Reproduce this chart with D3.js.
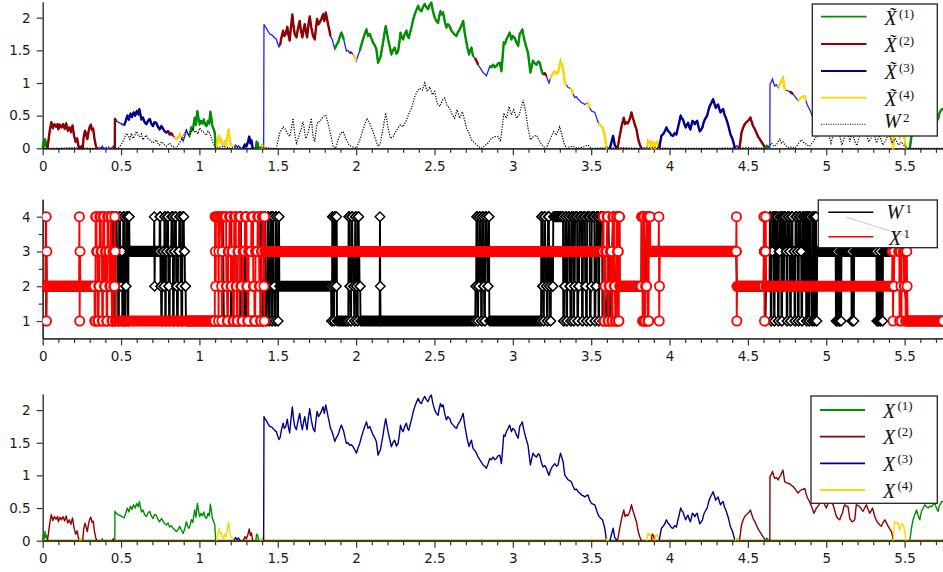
<!DOCTYPE html>
<html><head><meta charset="utf-8">
<script src="https://cdn.jsdelivr.net/npm/d3@7"></script>
<style>body{margin:0;background:#fff}svg{display:block}</style>
</head><body><svg id="c" width="943" height="572"></svg>
<script>
// ---------------- DATA ----------------
const xTickLabels = [0,0.5,1,1.5,2,2.5,3,3.5,4,4.5,5,5.5];
const yTicksPath = [0,0.5,1,1.5,2];
const yTicksState = [1,2,3,4];
const yMinorState = [1.5,2.5,3.5];

// active-component value (shared by panels 1 and 3): [t, value]
const mainPath = [
[0,0],[0.005,0.1],[0.01,0.03],[0.015,0.14],[0.02,0.05],[0.025,0.08],[0.03,0],
[0.037,0.12],[0.045,0.27],[0.055,0.4],[0.065,0.31],[0.075,0.37],[0.085,0.33],[0.095,0.37],[0.1,0.29],[0.11,0.36],[0.12,0.32],[0.13,0.37],[0.14,0.3],[0.15,0.38],[0.16,0.27],[0.17,0.32],[0.18,0.25],[0.19,0.35],[0.2,0.2],[0.21,0.1],[0.22,0.15],[0.228,0.04],[0.235,0],[0.24,0.02],[0.248,0.03],[0.255,0],
[0.262,0.18],[0.27,0.27],[0.278,0.2],[0.285,0.14],[0.292,0.25],[0.3,0.33],[0.307,0.36],[0.315,0.28],[0.322,0.3],[0.33,0.15],[0.338,0.05],[0.345,0],[0.375,0],[0.38,0.03],[0.385,0],[0.445,0],[0.45,0.03],[0.455,0],[0.46,0],
[0.461,0.45],[0.47,0.42],[0.48,0.4],[0.49,0.39],[0.5,0.38],[0.51,0.36],[0.52,0.35],[0.53,0.42],[0.54,0.5],[0.55,0.44],[0.56,0.53],[0.57,0.48],[0.58,0.55],[0.59,0.5],[0.6,0.57],[0.61,0.52],[0.617,0.6],[0.625,0.5],[0.63,0.44],[0.64,0.47],[0.65,0.4],[0.662,0.37],[0.672,0.42],[0.683,0.45],[0.693,0.38],[0.704,0.34],[0.714,0.4],[0.725,0.39],[0.735,0.33],[0.746,0.29],[0.757,0.34],[0.768,0.3],[0.778,0.26],[0.789,0.24],[0.8,0.27],[0.81,0.21],[0.82,0.23],[0.832,0.19],[0.842,0.17],[0.853,0.14],[0.864,0.17],[0.874,0.22],[0.885,0.16],[0.896,0.11],[0.906,0.18],[0.917,0.29],[0.925,0.22],[0.934,0.19],[0.942,0.25],[0.949,0.32],[0.958,0.28],[0.97,0.47],[0.978,0.36],[0.987,0.57],[0.995,0.45],[1.002,0.37],[1.01,0.42],[1.02,0.38],[1.028,0.44],[1.037,0.36],[1.045,0.34],[1.055,0.42],[1.063,0.38],[1.07,0.56],[1.077,0.45],[1.083,0.34],[1.09,0.3],[1.098,0.24],[1.104,0],
[1.11,0],[1.118,0.12],[1.125,0.19],[1.133,0.1],[1.14,0.13],[1.147,0.06],[1.155,0.03],[1.162,0.1],[1.17,0.06],[1.178,0.17],[1.186,0.29],[1.193,0.15],[1.2,0.06],[1.21,0.04],[1.22,0],[1.23,0.05],[1.24,0.02],[1.25,0.04],[1.26,0],[1.28,0],[1.29,0.06],[1.3,0.03],[1.31,0.1],[1.318,0.18],[1.325,0.08],[1.332,0.12],[1.34,0],[1.36,0],[1.365,0.1],[1.372,0.08],[1.378,0],[1.39,0],[1.4,0.05],[1.41,0],
[1.412,1.9],[1.42,1.86],[1.427,1.84],[1.438,1.79],[1.449,1.75],[1.46,1.74],[1.47,1.72],[1.48,1.69],[1.491,1.67],[1.5,1.6],[1.508,1.55],[1.515,1.58],[1.522,1.68],[1.528,1.74],[1.534,1.8],[1.542,1.72],[1.551,1.75],[1.561,1.86],[1.568,1.74],[1.576,1.65],[1.584,1.85],[1.593,2.05],[1.6,1.88],[1.608,1.75],[1.619,1.7],[1.628,1.82],[1.64,1.95],[1.648,1.8],[1.657,1.7],[1.665,1.82],[1.672,1.9],[1.68,1.78],[1.687,1.7],[1.695,1.88],[1.704,2.02],[1.714,1.85],[1.725,1.72],[1.736,1.67],[1.744,1.85],[1.751,1.98],[1.76,1.9],[1.768,1.93],[1.778,1.98],[1.789,2.05],[1.797,1.95],[1.806,2.08],[1.813,2.0],[1.821,1.9],[1.83,1.8],[1.836,1.72],[1.845,1.68],[1.853,1.62],[1.858,1.57],[1.864,1.52],[1.874,1.58],[1.885,1.62],[1.895,1.7],[1.906,1.77],[1.914,1.72],[1.921,1.67],[1.93,1.57],[1.938,1.49],[1.948,1.5],[1.959,1.46],[1.97,1.47],[1.98,1.44],[1.99,1.4],[2.002,1.34],[2.012,1.42],[2.023,1.49],[2.033,1.58],[2.044,1.67],[2.055,1.75],[2.066,1.82],[2.076,1.72],[2.087,1.75],[2.098,1.68],[2.108,1.62],[2.118,1.58],[2.129,1.52],[2.14,1.31],[2.148,1.36],[2.155,1.39],[2.163,1.5],[2.172,1.62],[2.18,1.75],[2.189,1.87],[2.197,1.76],[2.204,1.67],[2.215,1.55],[2.225,1.44],[2.235,1.5],[2.246,1.54],[2.257,1.45],[2.268,1.49],[2.276,1.62],[2.283,1.77],[2.292,1.7],[2.3,1.67],[2.31,1.75],[2.321,1.8],[2.328,1.72],[2.336,1.69],[2.345,1.78],[2.353,1.85],[2.364,1.97],[2.374,2.05],[2.385,2.12],[2.396,2.18],[2.406,2.12],[2.417,2.1],[2.428,2.17],[2.438,2.21],[2.448,2.16],[2.459,2.13],[2.47,2.2],[2.48,2.23],[2.49,2.1],[2.502,2.0],[2.512,1.95],[2.523,1.92],[2.53,2.02],[2.538,2.1],[2.546,2.05],[2.555,2.08],[2.565,1.95],[2.576,1.85],[2.586,1.9],[2.597,1.87],[2.608,1.8],[2.619,1.77],[2.63,1.74],[2.64,1.72],[2.65,1.78],[2.661,1.82],[2.672,1.88],[2.683,1.95],[2.693,1.77],[2.704,1.62],[2.712,1.52],[2.721,1.44],[2.728,1.5],[2.736,1.54],[2.742,1.46],[2.747,1.41],[2.758,1.38],[2.768,1.34],[2.778,1.28],[2.789,1.24],[2.8,1.2],[2.81,1.16],[2.82,1.14],[2.831,1.11],[2.842,1.18],[2.853,1.26],[2.863,1.24],[2.874,1.28],[2.885,1.24],[2.895,1.26],[2.906,1.3],[2.917,1.31],[2.927,1.18],[2.935,1.4],[2.942,1.62],[2.95,1.6],[2.959,1.67],[2.97,1.72],[2.98,1.77],[2.991,1.67],[3.0,1.72],[3.012,1.69],[3.023,1.62],[3.034,1.57],[3.04,1.68],[3.044,1.75],[3.052,1.78],[3.061,1.82],[3.068,1.72],[3.076,1.64],[3.086,1.55],[3.097,1.46],[3.105,1.3],[3.112,1.16],[3.12,1.25],[3.129,1.34],[3.14,1.3],[3.151,1.28],[3.162,1.33],[3.172,1.31],[3.182,1.2],[3.193,1.13],[3.204,1.15],[3.214,1.11],[3.222,1.05],[3.231,1.0],[3.238,1.06],[3.246,1.11],[3.257,1.15],[3.268,1.18],[3.278,1.14],[3.289,1.16],[3.296,1.25],[3.304,1.34],[3.312,1.28],[3.321,1.21],[3.326,1.1],[3.332,1.0],[3.342,0.97],[3.353,0.93],[3.364,0.92],[3.374,0.9],[3.385,0.83],[3.395,0.78],[3.406,0.79],[3.416,0.75],[3.427,0.73],[3.438,0.7],[3.448,0.69],[3.459,0.67],[3.47,0.69],[3.48,0.7],[3.49,0.62],[3.502,0.57],[3.512,0.56],[3.523,0.55],[3.53,0.5],[3.538,0.44],[3.546,0.39],[3.555,0.36],[3.563,0.34],[3.572,0.32],[3.58,0.25],[3.587,0.19],[3.592,0.1],[3.597,0],
[3.6,0.03],[3.61,0],[3.62,0],[3.63,0.1],[3.64,0.19],[3.65,0.05],[3.665,0],[3.672,0.05],[3.682,0.19],[3.695,0.35],[3.708,0.47],[3.716,0.37],[3.725,0.4],[3.733,0.38],[3.742,0.42],[3.75,0.48],[3.757,0.55],[3.765,0.47],[3.772,0.42],[3.78,0.35],[3.789,0.29],[3.8,0.14],[3.81,0.06],[3.82,0],[3.855,0],[3.862,0.12],[3.87,0.08],[3.878,0.1],[3.885,0],[3.89,0.1],[3.898,0.08],[3.906,0],[3.912,0.08],[3.92,0.1],[3.928,0.04],[3.934,0],
[3.941,0.1],[3.948,0.19],[3.96,0.22],[3.97,0.26],[3.98,0.32],[3.99,0.27],[4.001,0.24],[4.012,0.2],[4.022,0.19],[4.033,0.23],[4.044,0.21],[4.052,0.3],[4.061,0.39],[4.071,0.5],[4.078,0.46],[4.086,0.44],[4.095,0.37],[4.103,0.32],[4.11,0.36],[4.118,0.39],[4.125,0.33],[4.133,0.29],[4.14,0.36],[4.146,0.42],[4.154,0.4],[4.161,0.37],[4.168,0.4],[4.176,0.42],[4.185,0.33],[4.193,0.26],[4.2,0.28],[4.21,0.32],[4.218,0.4],[4.225,0.44],[4.232,0.47],[4.24,0.5],[4.248,0.58],[4.257,0.65],[4.268,0.7],[4.278,0.75],[4.287,0.68],[4.295,0.62],[4.302,0.65],[4.31,0.67],[4.318,0.6],[4.325,0.55],[4.334,0.58],[4.342,0.6],[4.35,0.52],[4.359,0.47],[4.366,0.42],[4.374,0.36],[4.382,0.28],[4.389,0.21],[4.395,0.18],[4.402,0.14],[4.41,0.07],[4.417,0],
[4.43,0.04],[4.445,0],[4.452,0.1],[4.459,0.24],[4.47,0.32],[4.48,0.37],[4.49,0.4],[4.5,0.42],[4.508,0.44],[4.516,0.47],[4.525,0.4],[4.533,0.34],[4.543,0.3],[4.554,0.24],[4.565,0.18],[4.576,0.14],[4.586,0.1],[4.597,0.06],[4.605,0.03],[4.612,0],[4.62,0.04],[4.635,0],[4.64,0],
[4.641,0.98],[4.65,1.02],[4.657,1.06],[4.664,1.0],[4.671,0.955],[4.682,0.97],[4.693,0.93],[4.7,0.97],[4.709,1.0],[4.716,1.04],[4.724,1.08],[4.73,0.98],[4.735,0.9],[4.745,0.89],[4.756,0.88],[4.767,0.87],[4.778,0.85],[4.788,0.83],[4.799,0.8],[4.81,0.76],[4.82,0.73],[4.83,0.76],[4.842,0.78],[4.853,0.79],[4.863,0.8],[4.87,0.73],[4.878,0.67],[4.888,0.62],[4.899,0.57],[4.91,0.5],[4.921,0.42],[4.93,0.46],[4.937,0.5],[4.948,0.53],[4.959,0.57],[4.97,0.6],[4.98,0.62],[4.99,0.55],[5.0,0.5],[5.01,0.56],[5.02,0.6],[5.032,0.58],[5.044,0.55],[5.055,0.45],[5.065,0.37],[5.075,0.34],[5.086,0.32],[5.095,0.38],[5.103,0.42],[5.11,0.5],[5.118,0.55],[5.128,0.53],[5.139,0.52],[5.145,0.42],[5.15,0.34],[5.158,0.31],[5.165,0.29],[5.173,0.3],[5.182,0.32],[5.187,0.45],[5.192,0.55],[5.203,0.54],[5.214,0.52],[5.225,0.48],[5.235,0.45],[5.245,0.5],[5.256,0.55],[5.267,0.48],[5.278,0.42],[5.287,0.46],[5.295,0.5],[5.302,0.44],[5.31,0.37],[5.32,0.31],[5.331,0.27],[5.342,0.24],[5.352,0.22],[5.363,0.28],[5.374,0.32],[5.385,0.27],[5.395,0.22],[5.405,0.18],[5.416,0.14],[5.422,0.08],[5.427,0],
[5.432,0.2],[5.437,0.29],[5.448,0.27],[5.459,0.27],[5.464,0.2],[5.469,0.16],[5.475,0.22],[5.48,0.27],[5.488,0.25],[5.495,0.22],[5.502,0.12],[5.508,0],[5.533,0],[5.54,0.12],[5.547,0.24],[5.554,0.32],[5.565,0.4],[5.576,0.47],[5.587,0.38],[5.597,0.32],[5.603,0.4],[5.608,0.45],[5.618,0.5],[5.629,0.55],[5.64,0.52],[5.65,0.5],[5.66,0.53],[5.672,0.52],[5.682,0.55],[5.693,0.57],[5.703,0.5],[5.714,0.45],[5.72,0.52],[5.729,0.57],[5.738,0.6],[5.746,0.6]
];

// panel 3: which component X^(k) is active: [start, end, k]
const compSegs = [[0,0.03,1],[0.03,0.235,2],[0.235,0.255,4],[0.255,0.345,2],[0.375,0.385,1],[0.445,0.455,2],[0.46,1.104,1],[1.11,1.22,4],[1.22,1.26,3],[1.28,1.34,2],[1.36,1.39,1],[1.39,1.41,4],[1.41,3.597,3],[3.597,3.61,4],[3.62,3.665,3],[3.665,3.82,2],[3.855,3.885,4],[3.885,3.906,2],[3.906,3.934,4],[3.934,4.417,3],[4.417,4.445,4],[4.445,4.612,2],[4.612,4.635,1],[4.64,5.427,2],[5.427,5.508,4],[5.533,5.746,1]];

// panel 1: tilde-labels (thick), the rest drawn as the thin blue base
const tildeSegs = [[0,0.03,1],[0.03,0.345,2],[0.455,0.47,2],[0.5,0.51,1],[0.52,0.8,3],[0.8,0.832,2],[0.842,0.885,4],[0.93,1.104,1],[1.11,1.22,4],[1.28,1.34,3],[1.36,1.39,1],[1.39,1.41,4],[1.515,1.842,2],[1.864,1.927,1],[1.959,1.976,2],[1.976,2.002,4],[2.023,2.747,1],[2.758,2.778,2],[2.853,3.193,1],[3.193,3.214,2],[3.238,3.35,4],[3.364,3.385,4],[3.47,3.49,4],[3.546,3.6,4],[3.62,3.665,3],[3.665,3.82,2],[3.855,3.934,4],[3.934,4.417,3],[4.445,4.612,2],[4.612,4.635,1],[4.693,4.745,4],[4.767,4.788,2],[4.82,4.87,4],[5.395,5.508,4],[5.533,5.746,1]];

// W^2 path: [t, value]
const w2Path = [
[0,0],[0.1,0],[0.2,0.01],[0.3,0],[0.36,0],[0.37,0.03],[0.38,0],[0.42,0.02],[0.44,0],[0.48,0],[0.5,0.05],[0.515,0.12],[0.534,0.23],[0.545,0.2],[0.556,0.14],[0.566,0.23],[0.577,0.15],[0.588,0.2],[0.598,0.26],[0.608,0.2],[0.619,0.18],[0.63,0.22],[0.64,0.13],[0.65,0.17],[0.661,0.2],[0.672,0.15],[0.683,0.13],[0.694,0.1],[0.704,0.08],[0.715,0.11],[0.725,0.13],[0.736,0.07],[0.746,0.05],[0.757,0.1],[0.768,0.08],[0.778,0.05],[0.789,0.03],[0.8,0.06],[0.81,0.08],[0.82,0.04],[0.832,0.03],[0.842,0.01],[0.853,0],[0.87,0.07],[0.885,0.13],[0.9,0.2],[0.917,0.28],[0.928,0.22],[0.938,0.18],[0.948,0.25],[0.959,0.31],[0.97,0.24],[0.98,0.26],[0.991,0.22],[1.002,0.31],[1.012,0.27],[1.023,0.26],[1.034,0.22],[1.044,0.2],[1.055,0.26],[1.066,0.23],[1.077,0.15],[1.087,0.08],[1.098,0.03],[1.108,0],[1.15,0.03],[1.2,0],[1.25,0.02],[1.3,0],[1.35,0],[1.4,0.02],[1.45,0],[1.491,0],[1.502,0.12],[1.512,0.23],[1.523,0.28],[1.534,0.33],[1.545,0.3],[1.555,0.26],[1.565,0.22],[1.576,0.18],[1.587,0.3],[1.597,0.46],[1.608,0.23],[1.619,0.08],[1.63,0.15],[1.64,0.23],[1.65,0.3],[1.661,0.41],[1.67,0.28],[1.678,0.15],[1.693,0.23],[1.704,0.35],[1.714,0.46],[1.725,0.18],[1.736,0.1],[1.747,0.33],[1.757,0.41],[1.768,0.41],[1.779,0.45],[1.789,0.485],[1.806,0.51],[1.821,0.38],[1.836,0.23],[1.853,0.03],[1.87,0],[1.885,0.13],[1.9,0.23],[1.917,0.255],[1.938,0.13],[1.955,0.05],[1.97,0.03],[2.002,0],[2.023,0.13],[2.04,0.255],[2.055,0.36],[2.07,0.46],[2.087,0.38],[2.108,0.255],[2.125,0.13],[2.14,0.03],[2.155,0.08],[2.176,0.36],[2.189,0.54],[2.204,0.31],[2.219,0.15],[2.236,0.18],[2.253,0.255],[2.267,0.31],[2.282,0.36],[2.3,0.33],[2.321,0.43],[2.338,0.54],[2.353,0.61],[2.374,0.79],[2.389,0.87],[2.406,0.92],[2.423,0.89],[2.438,1.0],[2.453,0.87],[2.47,0.94],[2.487,0.82],[2.502,0.87],[2.517,0.69],[2.534,0.64],[2.551,0.74],[2.565,0.77],[2.58,0.66],[2.597,0.61],[2.614,0.51],[2.629,0.46],[2.644,0.59],[2.661,0.46],[2.678,0.56],[2.693,0.43],[2.704,0.31],[2.721,0.23],[2.736,0.13],[2.757,0.08],[2.778,0.03],[2.8,0],[2.82,0.04],[2.842,0.08],[2.863,0.15],[2.885,0.18],[2.906,0.18],[2.921,0.1],[2.934,0.36],[2.942,0.54],[2.959,0.46],[2.976,0.64],[2.991,0.51],[3.006,0.59],[3.023,0.46],[3.04,0.51],[3.055,0.64],[3.066,0.74],[3.083,0.54],[3.097,0.31],[3.112,0.13],[3.13,0.18],[3.151,0.2],[3.172,0.1],[3.193,0.03],[3.214,0],[3.23,0.1],[3.246,0.18],[3.261,0.255],[3.278,0.2],[3.299,0.33],[3.316,0.18],[3.331,0.05],[3.342,0],[3.36,0.02],[3.385,0.03],[3.41,0],[3.45,0.02],[3.48,0.05],[3.5,0],[3.7,0.01],[3.8,0],[3.9,0.01],[4.0,0],[4.3,0],[4.5,0.01],[4.62,0],[4.635,0.04],[4.65,0.08],[4.665,0.03],[4.682,0.05],[4.703,0.15],[4.714,0.08],[4.724,0.1],[4.735,0.06],[4.746,0.03],[4.76,0.01],[4.78,0.02],[4.795,0],[4.81,0.03],[4.825,0.08],[4.841,0.13],[4.852,0.1],[4.862,0.08],[4.878,0.05],[4.894,0.03],[4.915,0.1],[4.937,0.18],[4.958,0.2],[4.975,0.35],[4.99,0.28],[5.0,0.4],[5.015,0.22],[5.03,0.08],[5.05,0.25],[5.07,0.38],[5.09,0.15],[5.1,0.05],[5.12,0.2],[5.135,0.3],[5.15,0.1],[5.165,0.25],[5.18,0.12],[5.195,0.04],[5.215,0.22],[5.235,0.35],[5.25,0.28],[5.27,0.1],[5.285,0.15],[5.3,0.3],[5.32,0.08],[5.34,0.2],[5.36,0.05],[5.38,0.12],[5.4,0.25],[5.42,0.08],[5.44,0.15],[5.46,0.05],[5.48,0.1],[5.5,0.03],[5.52,0],[5.746,0]
];

// panel 2: runs of constant state [start, end, state]
const w1Runs = [
[0,0.018,2],[0.02,0.02,4],[0.022,0.022,1],[0.024,0.44,2],[0.442,0.446,1],[0.448,0.452,4],[0.454,0.458,3],[0.46,0.465,1],[0.467,0.472,4],[0.474,0.48,3],[0.482,0.486,1],[0.488,0.494,4],[0.496,0.5,2],[0.502,0.506,3],[0.508,0.512,1],[0.514,0.52,4],[0.522,0.526,1],[0.528,0.532,2],[0.534,0.54,4],[0.542,0.546,1],[0.548,0.552,4],[0.554,0.71,3],[0.712,0.712,4],[0.714,0.714,2],[0.716,0.745,3],[0.747,0.75,4],[0.752,0.755,2],[0.757,0.76,1],[0.762,0.77,3],[0.772,0.775,2],[0.777,0.78,4],[0.782,0.785,1],[0.787,0.792,3],[0.794,0.8,4],[0.802,0.805,2],[0.807,0.81,1],[0.812,0.82,3],[0.822,0.83,4],[0.832,0.836,1],[0.838,0.842,3],[0.844,0.85,4],[0.852,0.856,2],[0.858,0.862,1],[0.864,0.87,3],[0.872,0.878,4],[0.88,0.884,2],[0.886,0.89,1],[0.892,0.9,4],[0.902,0.906,3],[0.908,0.912,2],[0.914,1.15,1],
[1.152,1.152,4],[1.154,1.154,2],[1.156,1.2,1],[1.202,1.202,3],[1.204,1.204,4],[1.206,1.26,1],[1.262,1.265,4],[1.267,1.27,2],[1.272,1.275,3],[1.277,1.29,1],[1.292,1.295,4],[1.297,1.3,3],[1.302,1.39,1],[1.392,1.395,4],[1.397,1.4,2],[1.402,1.41,1],[1.412,1.415,3],[1.417,1.42,4],[1.422,1.428,1],[1.43,1.434,2],[1.436,1.44,4],[1.442,1.446,1],[1.448,1.452,3],[1.454,1.458,4],[1.46,1.465,1],[1.467,1.47,4],[1.472,1.478,2],[1.48,1.484,1],[1.486,1.49,4],[1.492,1.496,3],[1.498,1.502,1],[1.504,1.508,4],[1.51,1.84,2],
[1.842,1.846,1],[1.848,1.85,4],[1.852,1.856,2],[1.858,1.86,1],[1.862,1.866,4],[1.868,1.874,2],[1.876,1.876,4],[1.878,1.95,1],[1.952,1.956,4],[1.958,1.962,2],[1.964,1.968,1],[1.97,1.975,4],[1.977,1.98,3],[1.982,1.986,2],[1.988,1.992,1],[1.994,1.998,4],[2.0,2.004,2],[2.006,2.01,1],[2.012,2.016,4],[2.018,2.02,3],[2.022,2.026,2],[2.028,2.15,1],[2.152,2.152,4],[2.154,2.154,2],[2.156,2.76,1],
[2.762,2.766,2],[2.768,2.772,4],[2.774,2.778,1],[2.78,2.784,2],[2.786,2.79,4],[2.792,2.796,3],[2.798,2.802,1],[2.804,2.81,4],[2.812,2.816,2],[2.818,2.822,1],[2.824,2.83,4],[2.832,2.836,3],[2.838,2.842,2],[2.844,2.848,4],[2.85,3.18,1],
[3.182,3.186,4],[3.188,3.192,2],[3.194,3.198,1],[3.2,3.205,4],[3.207,3.21,3],[3.212,3.216,2],[3.218,3.222,1],[3.224,3.23,4],[3.232,3.236,2],[3.238,3.242,1],[3.244,3.25,3],[3.252,3.256,2],[3.258,3.32,4],
[3.322,3.326,1],[3.328,3.332,2],[3.334,3.34,4],[3.342,3.346,1],[3.348,3.352,3],[3.354,3.36,4],[3.362,3.366,2],[3.368,3.372,1],[3.374,3.385,4],[3.387,3.39,1],[3.392,3.395,2],[3.397,3.41,4],[3.412,3.416,1],[3.418,3.422,2],[3.424,3.435,4],[3.437,3.44,3],[3.442,3.446,1],[3.448,3.46,4],[3.462,3.466,2],[3.468,3.472,1],[3.474,3.49,4],[3.492,3.496,1],[3.498,3.502,2],[3.504,3.52,4],[3.522,3.526,1],[3.528,3.532,2],[3.534,3.545,4],[3.547,3.55,1],[3.552,3.556,3],[3.558,3.57,4],[3.572,3.576,1],[3.578,3.58,2],
[3.6,3.6,1],[3.61,3.61,4],[3.62,3.62,1],[3.64,3.64,4],[3.66,3.66,1],[3.68,3.68,4],[3.682,3.82,2],[3.822,3.822,4],[3.84,3.84,1],[3.855,3.86,4],[3.877,4.425,3],[4.43,4.6,2],[4.608,4.608,4],[4.612,4.612,1],[4.616,4.638,2],
[4.64,4.644,4],[4.646,4.65,1],[4.652,4.656,3],[4.658,4.665,4],[4.667,4.67,1],[4.672,4.676,4],[4.678,4.682,2],[4.684,4.69,4],[4.692,4.696,1],[4.698,4.702,3],[4.704,4.712,4],[4.714,4.718,1],[4.72,4.724,4],[4.726,4.73,2],[4.732,4.74,4],[4.742,4.746,3],[4.748,4.752,1],[4.754,4.762,4],[4.764,4.768,3],[4.77,4.774,1],[4.776,4.784,4],[4.786,4.79,2],[4.792,4.796,3],[4.798,4.802,1],[4.804,4.812,4],[4.814,4.818,3],[4.82,4.824,1],[4.826,4.834,4],[4.836,4.84,3],[4.842,4.846,1],[4.848,4.856,4],[4.858,4.862,2],[4.864,4.87,4],[4.872,4.876,1],[4.878,4.886,4],[4.888,4.892,1],[4.894,4.9,4],[4.902,4.906,2],[4.908,4.912,1],[4.914,4.92,4],[4.922,4.926,1],[4.928,4.935,4],[4.937,4.94,1],[4.942,5.06,3],
[5.062,5.064,1],[5.066,5.07,3],[5.072,5.075,1],[5.077,5.08,4],[5.082,5.085,1],[5.087,5.09,3],[5.092,5.095,1],[5.097,5.16,3],[5.162,5.165,1],[5.167,5.17,4],[5.172,5.176,1],[5.178,5.32,3],[5.322,5.325,1],[5.327,5.33,4],[5.332,5.336,1],[5.338,5.342,3],[5.344,5.348,1],[5.35,5.355,4],[5.357,5.36,1],[5.362,5.42,3],[5.45,5.46,4],[5.47,5.475,3],[5.482,5.49,4],[5.5,5.5,2],[5.52,5.746,1]
];
const x1Runs = [
[0,0.021,2],[0.022,0.022,4],[0.024,0.024,1],[0.026,0.026,3],[0.028,0.232,2],[0.234,0.234,4],[0.236,0.236,1],[0.238,0.238,3],[0.24,0.33,2],
[0.332,0.336,1],[0.338,0.342,4],[0.344,0.35,3],[0.352,0.356,1],[0.358,0.362,2],[0.364,0.37,4],[0.372,0.378,3],[0.38,0.384,1],[0.386,0.392,4],[0.394,0.398,2],[0.4,0.406,3],[0.408,0.412,1],[0.414,0.42,4],[0.422,0.426,3],[0.428,0.434,2],[0.436,0.44,4],[0.442,0.446,1],[0.448,0.452,3],[0.454,0.458,2],[0.46,0.46,4],[0.462,0.462,3],[0.464,1.098,1],
[1.1,1.1,4],[1.102,1.102,3],[1.104,1.104,2],[1.106,1.12,4],[1.122,1.122,1],[1.124,1.124,3],[1.13,1.14,4],[1.142,1.142,2],[1.144,1.144,1],[1.146,1.146,3],[1.15,1.17,4],[1.172,1.176,2],[1.178,1.182,1],[1.184,1.19,3],[1.192,1.2,4],[1.202,1.206,2],[1.208,1.212,3],[1.214,1.22,1],[1.222,1.232,4],[1.234,1.238,2],[1.24,1.244,1],[1.246,1.25,3],[1.252,1.262,4],[1.264,1.27,2],[1.272,1.276,1],[1.278,1.29,3],[1.292,1.3,4],[1.302,1.306,2],[1.308,1.312,1],[1.314,1.33,3],[1.332,1.342,4],[1.344,1.35,2],[1.352,1.356,1],[1.358,1.37,3],[1.372,1.38,4],[1.382,1.388,2],[1.39,1.394,1],[1.396,1.4,3],[1.402,1.41,4],[1.412,1.412,2],[1.414,1.414,1],[1.416,1.416,4],[1.418,3.575,3],
[3.577,3.579,4],[3.58,3.585,1],[3.587,3.59,2],[3.592,3.6,3],[3.602,3.606,4],[3.608,3.612,1],[3.614,3.62,2],[3.622,3.63,3],[3.632,3.636,1],[3.638,3.645,4],[3.647,3.652,2],[3.654,3.66,1],[3.662,3.666,4],[3.668,3.672,3],[3.674,3.676,1],[3.678,3.68,4],[3.682,3.82,2],
[3.822,3.826,4],[3.828,3.832,1],[3.834,3.838,4],[3.84,3.845,1],[3.847,3.853,2],[3.855,3.86,4],[3.862,3.866,1],[3.868,3.875,4],[3.877,3.93,3],[3.932,3.932,4],[3.934,3.934,1],[3.936,3.936,2],[3.938,4.425,3],[4.427,4.427,4],[4.429,4.429,1],[4.431,4.6,2],[4.602,4.602,4],[4.604,4.604,3],[4.606,4.606,1],[4.608,4.612,3],[4.614,4.614,4],[4.616,5.42,2],
[5.422,5.422,3],[5.424,5.424,4],[5.426,5.426,1],[5.428,5.432,2],[5.434,5.434,3],[5.45,5.46,4],[5.462,5.466,3],[5.468,5.468,1],[5.47,5.475,3],[5.477,5.477,2],[5.48,5.48,1],[5.482,5.49,4],[5.492,5.496,3],[5.498,5.5,2],[5.502,5.505,3],[5.507,5.51,1],[5.512,5.512,4],[5.514,5.514,3],[5.516,5.516,2],[5.52,5.746,1]
];

const legendTop = ["(1)","(2)","(3)","(4)"];
const legendBot = ["(1)","(2)","(3)","(4)"];

// ---------------- DRAWING ----------------
const COL = {1:'#008f00', 2:'#8f0000', 3:'#00008f', 4:'#ffd700'};
const svg = d3.select('#c');
const x = d3.scaleLinear().domain([0, 5.745]).range([42.7, 943]);
const yTop = d3.scaleLinear().domain([0, 2.245]).range([148.3, 1.7]);
const yMid = d3.scaleLinear().domain([0.5, 4.5]).range([338.4, 199.3]);
const yBot = d3.scaleLinear().domain([0, 2.245]).range([540.7, 394.1]);
const xMinor = d3.range(1, 58).map(i => i / 10).filter((v, i) => (i + 1) % 5 !== 0);
const AX = '#333', TXT = '#1a1a1a', FONT = 'DejaVu Sans';

function styleAxis(g) {
  g.attr('font-family', FONT).attr('font-size', 13.5);
  g.select('.domain').attr('stroke', AX).attr('stroke-width', 1.4);
  g.selectAll('.tick line').attr('stroke', AX).attr('stroke-width', 1.2);
  g.selectAll('.tick text').attr('fill', TXT);
}
function xAxis(yPos) {
  const g1 = svg.append('g').attr('transform', `translate(0,${yPos})`)
    .call(d3.axisBottom(x).tickValues(xMinor).tickSize(4.5).tickFormat('').tickSizeOuter(0));
  styleAxis(g1);
  const g2 = svg.append('g').attr('transform', `translate(0,${yPos})`)
    .call(d3.axisBottom(x).tickValues(xTickLabels).tickSize(7).tickPadding(6).tickFormat(d => String(d)).tickSizeOuter(0));
  styleAxis(g2);
}
function yAxis(scale, ticks, minor) {
  if (minor) {
    const gm = svg.append('g').attr('transform', `translate(${x(0)},0)`)
      .call(d3.axisLeft(scale).tickValues(minor).tickSize(4).tickFormat('').tickSizeOuter(0));
    styleAxis(gm);
  }
  const g = svg.append('g').attr('transform', `translate(${x(0)},0)`)
    .call(d3.axisLeft(scale).tickValues(ticks).tickSize(6).tickPadding(6).tickFormat(d => String(d)).tickSizeOuter(0));
  styleAxis(g);
}
const segPts = (s, e) => mainPath.filter(p => p[0] >= s - 1e-9 && p[0] <= e + 1e-9);

// ---- Panel 1 ----
xAxis(yTop(0)); yAxis(yTop, yTicksPath);
const line1 = d3.line().x(d => x(d[0])).y(d => yTop(d[1]));
svg.append('path').attr('d', line1(mainPath)).attr('fill', 'none').attr('stroke', '#1f1fff').attr('stroke-width', 1.3);
tildeSegs.forEach(s => {
  svg.append('path').attr('d', line1(segPts(s[0], s[1]))).attr('fill', 'none')
    .attr('stroke', COL[s[2]]).attr('stroke-width', 2.4).attr('stroke-linejoin', 'round');
});
svg.append('path').attr('d', line1(w2Path)).attr('fill', 'none').attr('stroke', '#000')
  .attr('stroke-width', 1.2).attr('stroke-dasharray', '1.2,1.4');

// ---- Panel 2 ----
xAxis(yMid(0.5)); yAxis(yMid, yTicksState, yMinorState);
svg.append('clipPath').attr('id', 'clip2').append('rect').attr('x', x(0)).attr('y', 190).attr('width', 943 - x(0)).attr('height', 160);
const g2 = svg.append('g').attr('clip-path', 'url(#clip2)');
function drawRuns(runs, color, shape) {
  const g = g2.append('g');
  const pts = [];
  runs.forEach(r => { pts.push([r[0], r[2]]); if (r[1] > r[0]) pts.push([r[1], r[2]]); });
  g.append('path').attr('d', d3.line().x(d => x(d[0])).y(d => yMid(d[1]))(pts))
    .attr('fill', 'none').attr('stroke', color).attr('stroke-width', 1.9);
  const R = shape === 'circle' ? 4.6 : 4.8;
  const Ro = shape === 'circle' ? R + 0.9 : R + 0.8;
  runs.forEach(r => {
    const xs = x(r[0]), xe = x(r[1]), yy = yMid(r[2]);
    if (xe > xs) {
      if (shape === 'circle') g.append('rect').attr('x', xs - Ro).attr('y', yy - Ro).attr('width', xe - xs + 2 * Ro).attr('height', 2 * Ro).attr('rx', Ro).attr('fill', color);
      else g.append('path').attr('d', `M${xs - Ro},${yy}L${xs},${yy - Ro}L${xe},${yy - Ro}L${xe + Ro},${yy}L${xe},${yy + Ro}L${xs},${yy + Ro}Z`).attr('fill', color);
    }
    if (shape === 'circle') g.append('circle').attr('cx', xe).attr('cy', yy).attr('r', R).attr('fill', '#fff').attr('stroke', color).attr('stroke-width', 1.8);
    else g.append('path').attr('d', `M${xe - R},${yy}L${xe},${yy - R}L${xe + R},${yy}L${xe},${yy + R}Z`).attr('fill', '#fff').attr('stroke', color).attr('stroke-width', 1.4);
  });
}
drawRuns(w1Runs, '#000', 'diamond');
drawRuns(x1Runs, '#ff0000', 'circle');

// ---- Panel 3 ----
xAxis(yBot(0)); yAxis(yBot, yTicksPath);
const line3 = d3.line().x(d => x(d[0])).y(d => yBot(d[1]));
svg.append('line').attr('x1', x(0)).attr('x2', 943).attr('y1', yBot(0)).attr('y2', yBot(0)).attr('stroke', '#4d4300').attr('stroke-width', 2);
compSegs.forEach(s => {
  svg.append('path').attr('d', line3(segPts(s[0], s[1]))).attr('fill', 'none')
    .attr('stroke', COL[s[2]]).attr('stroke-width', 1.4).attr('stroke-linejoin', 'round');
});

// ---- Legends ----
function box(x0, y0, w, h) {
  svg.append('rect').attr('x', x0).attr('y', y0).attr('width', w).attr('height', h)
    .attr('fill', '#fff').attr('stroke', '#222').attr('stroke-width', 1.3);
}
function mathLabel(xl, base, letter, sup, supDy, supDx) {
  svg.append('text').attr('x', xl).attr('y', base).attr('font-family', 'Liberation Serif')
    .attr('font-style', 'italic').attr('font-size', 20).attr('fill', '#111').text(letter);
  svg.append('text').attr('x', xl + supDx).attr('y', base - supDy).attr('font-family', 'Liberation Serif')
    .attr('font-size', 13).attr('fill', '#111').text(sup);
}
// legend 1
box(812.3, 4, 125, 132);
const ly1 = [16.7, 44, 71, 97.7];
legendTop.forEach((s, i) => {
  svg.append('line').attr('x1', 821).attr('x2', 866.5).attr('y1', ly1[i]).attr('y2', ly1[i]).attr('stroke', COL[i + 1]).attr('stroke-width', 1.8);
  mathLabel(884.5, ly1[i] + 8.3, 'X\u0303', s, 7.5, 14.5);
});
svg.append('line').attr('x1', 821).attr('x2', 866.5).attr('y1', 124.3).attr('y2', 124.3).attr('stroke', '#333').attr('stroke-width', 1).attr('stroke-dasharray', '1.2,1.2');
mathLabel(884, 128.3, 'W', '2', 6.5, 19);

// legend 2
box(818.3, 200, 119, 47.7);
svg.append('line').attr('x1', 828.3).attr('x2', 873.3).attr('y1', 212.3).attr('y2', 212.3).attr('stroke', '#000').attr('stroke-width', 1.6);
svg.append('line').attr('x1', 828.3).attr('x2', 873.3).attr('y1', 236.7).attr('y2', 236.7).attr('stroke', '#ff0000').attr('stroke-width', 1.6);
svg.append('line').attr('x1', 846).attr('x2', 906).attr('y1', 217).attr('y2', 236).attr('stroke', '#c9a9a9').attr('stroke-width', 0.7);
mathLabel(886.5, 219, 'W', '1', 6.5, 19);
mathLabel(889, 245, 'X', '1', 7.5, 14.5);

// legend 3
box(811, 396, 126.3, 107.3);
const ly3 = [410, 436.7, 463.3, 490];
legendBot.forEach((s, i) => {
  svg.append('line').attr('x1', 820).attr('x2', 865).attr('y1', ly3[i]).attr('y2', ly3[i]).attr('stroke', COL[i + 1]).attr('stroke-width', 1.8);
  mathLabel(883, ly3[i] + 7.7, 'X', s, 8, 14.5);
});
</script>
</body></html>
